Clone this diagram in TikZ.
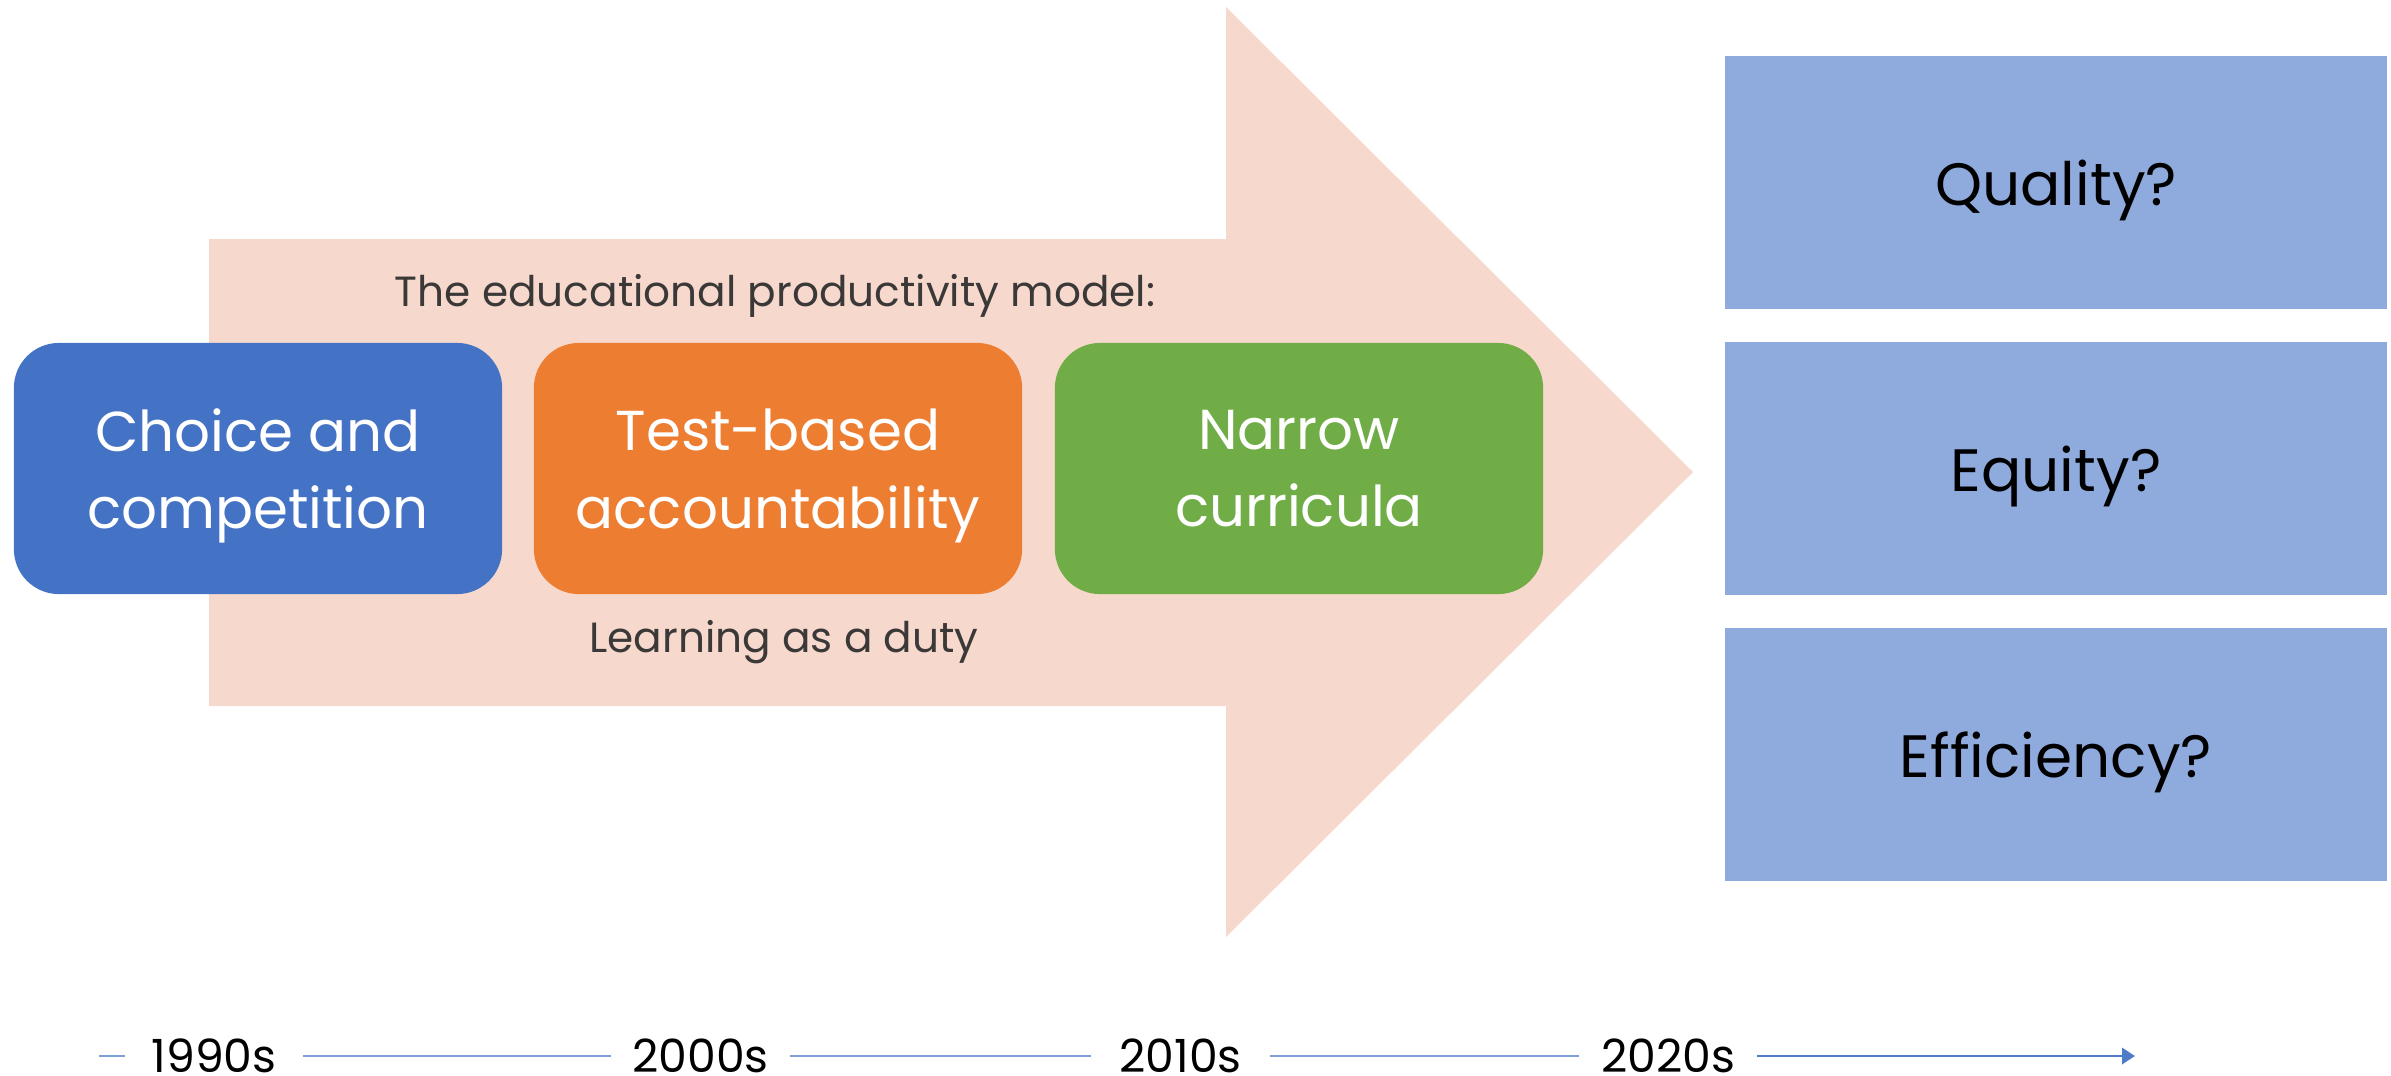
\documentclass[tikz,border=0pt]{standalone}
\usepackage{fontspec}
\setmainfont{Poppins}
\usetikzlibrary{arrows.meta}
\definecolor{choiceblue}{HTML}{4472C4}
\definecolor{testorange}{HTML}{ED7D31}
\definecolor{narrowgreen}{HTML}{70AD47}
\definecolor{bigarrow}{HTML}{F7D8CD}
\definecolor{askblue}{HTML}{8FAADC}
\definecolor{lineblue}{HTML}{7F9FD9}
\definecolor{darktext}{HTML}{3B3838}
\tikzset{
  stage/.style={rounded corners=0.45cm, minimum width=4.88cm, minimum height=2.51cm,
    inner sep=0pt, text depth=0pt, text=white, align=center, font=\fontsize{16}{22}\selectfont},
  outcome/.style={fill=askblue, minimum width=6.62cm, minimum height=2.53cm,
    inner sep=0pt, text depth=0pt, font=\fontsize{17}{22}\selectfont},
  caption/.style={text=darktext, font=\fontsize{12}{14}\selectfont},
  decade/.style={minimum width=1.77cm, inner xsep=0pt, font=\fontsize{13}{15}\selectfont},
  timeline/.style={lineblue, line width=0.8pt}
}
\begin{document}
\begin{tikzpicture}[x=0.01cm, y=-0.01cm]
      \useasboundingbox (0,0) rectangle (2391,1075);
      \fill[bigarrow] (209,239) -- (1226,239) -- (1226,7) -- (1693,472)
        -- (1226,937) -- (1226,706) -- (209,706) -- cycle;
      \draw
        (775,296) node[caption] (model){The educational productivity model:}
        (784,642) node[caption] (duty){Learning as a duty};
      \node[stage, fill=choiceblue] (choice) at (258,468.5) {Choice and\\competition};
      \node[stage, fill=testorange] (test) at (778,468.5) {Test-based\\accountability};
      \node[stage, fill=narrowgreen] (narrow) at (1299,468.5) {Narrow\\curricula};
      \node[outcome] (quality) at (2056,182.5) {Quality?};
      \node[outcome] (equity) at (2056,468.5) {Equity?};
      \node[outcome] (efficiency) at (2056,754.5) {Efficiency?};
      \draw
        (214,1056) node[decade] (1990){1990s}
        (700.5,1056) node[decade] (2000){2000s}
        (1180.5,1056) node[decade] (2010){2010s}
        (1668,1056) node[decade] (2020){2020s};
      \coordinate (start) at (99,1056);
      \coordinate (end) at (2135,1056);
      \begin{scope}[timeline]
        \draw (start) to (1990.west);
        \draw (1990.east) to (2000.west);
        \draw (2000.east) to (2010.west);
        \draw (2010.east) to (2020.west);
        \draw[-{Triangle[length=3.7pt, width=4.6pt]}, choiceblue!80!lineblue] (2020.east) to (end);
      \end{scope}
    \end{tikzpicture}
\end{document}
